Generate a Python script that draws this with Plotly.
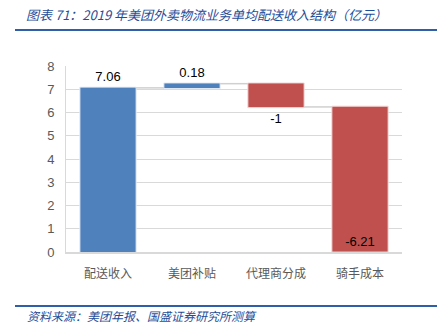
import plotly.graph_objects as go

categories = ["配送收入", "美团补贴", "代理商分成", "骑手成本"]
values = [7.06, 0.18, -1, -6.21]
labels = ["7.06", "0.18", "-1", "-6.21"]
y_ticks = [0, 1, 2, 3, 4, 5, 6, 7, 8]

W, H = 445, 331
L, R, T, B = 66, 43, 66, 79

def px(x):
    return (x - L) / (W - L - R)

def py(y):
    return (H - B - y) / (H - T - B)

fig = go.Figure(go.Waterfall(
    x=categories,
    y=values,
    measure=["relative"] * 4,
    text=labels,
    textposition=["outside", "outside", "outside", "inside"],
    insidetextanchor="end",
    textfont=dict(family="Liberation Sans, Arial", size=13, color="#000000"),
    increasing=dict(marker=dict(color="#4F81BD", line=dict(color="#E8EEF7", width=1))),
    decreasing=dict(marker=dict(color="#C0504D", line=dict(color="#F2DCDB", width=1))),
    connector=dict(line=dict(color="#D0D0D0", width=1.5)),
    cliponaxis=False,
    width=0.67,
))

fig.update_layout(
    width=W, height=H,
    margin=dict(l=L, r=R, t=T, b=B),
    paper_bgcolor="white", plot_bgcolor="white",
    showlegend=False,
    font=dict(family="Noto Sans CJK SC", color="#595959"),
    xaxis=dict(
        showline=True, linecolor="#D9D9D9", linewidth=1.5,
        ticks="", tickfont=dict(family="Noto Sans CJK SC", size=12, color="#595959"),
        ticklabelstandoff=10,
    ),
    yaxis=dict(
        range=[0, 8], tickvals=y_ticks,
        showgrid=True, gridcolor="#D9D9D9", gridwidth=1,
        showline=True, linecolor="#D9D9D9", linewidth=1,
        zeroline=False, ticks="",
        tickfont=dict(family="Liberation Sans, Arial", size=13, color="#595959"),
        ticklabelstandoff=8,
    ),
)

# Title, rules and source note
fig.add_annotation(
    text="<i>图表 71：2019 年美团外卖物流业务单均配送收入结构（亿元）</i>",
    xref="paper", yref="paper", x=px(24), y=py(14),
    xanchor="left", yanchor="middle", showarrow=False,
    font=dict(family="Noto Sans CJK SC", size=13, color="#1F4E99"),
)
fig.add_shape(type="line", xref="paper", yref="paper",
              x0=px(15), x1=px(437), y0=py(30), y1=py(30),
              line=dict(color="#2E5FA8", width=2))
fig.add_shape(type="line", xref="paper", yref="paper",
              x0=px(15), x1=px(437), y0=py(306), y1=py(306),
              line=dict(color="#2E5FA8", width=2))
fig.add_annotation(
    text="<i>资料来源：美团年报、国盛证券研究所测算</i>",
    xref="paper", yref="paper", x=px(25), y=py(315),
    xanchor="left", yanchor="middle", showarrow=False,
    font=dict(family="Noto Sans CJK SC", size=12, color="#1F4E99"),
)

fig.write_html("out.html")
